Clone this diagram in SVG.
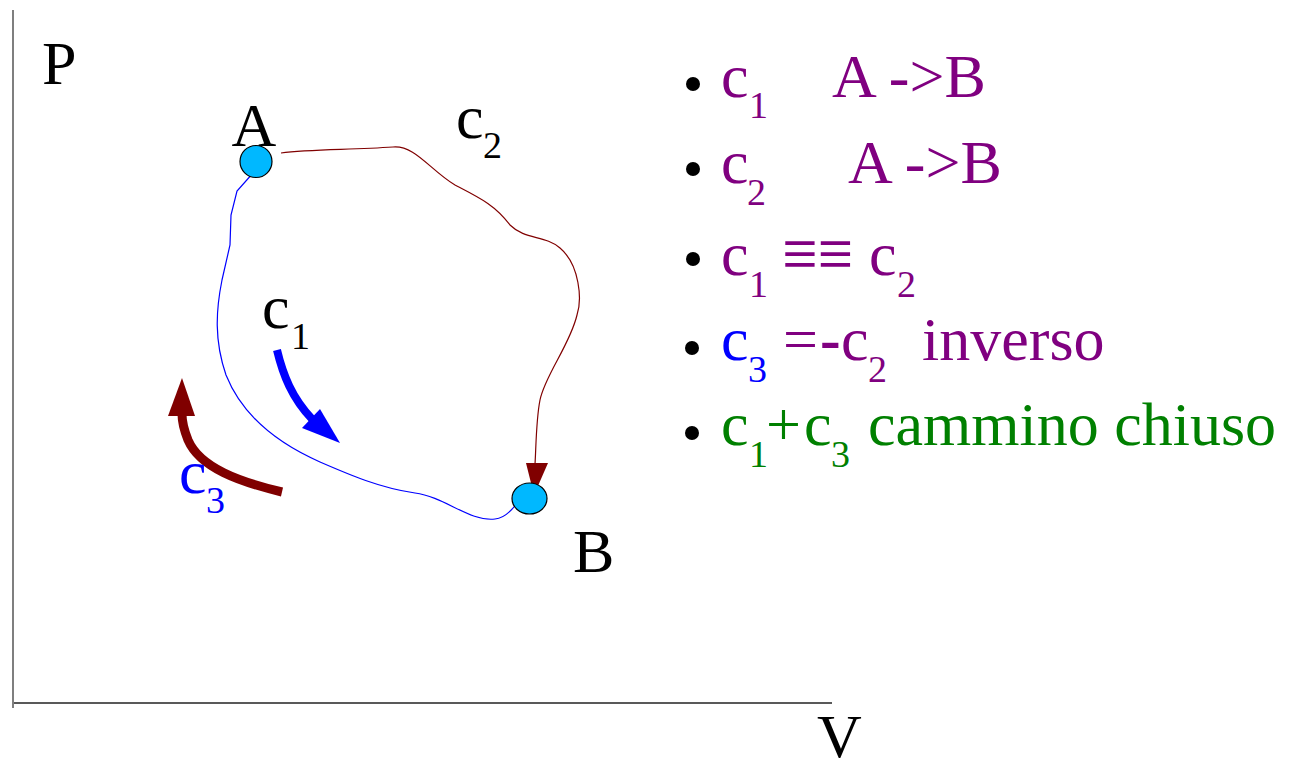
<svg xmlns="http://www.w3.org/2000/svg" width="1298" height="769" viewBox="0 0 1298 769">
<style>
  text { font-family: "Liberation Serif", "Times New Roman", serif; font-size: 62px; }
  .sub { font-size: 38px; }
  .eq { font-size: 75px; }
  .k { fill: #000000; }
  .pu { fill: #800080; }
  .bl { fill: #0000ff; }
  .gr { fill: #008000; }
  .pt { fill: #00b8ff; stroke: #000000; stroke-width: 1.2; }
  .bul { fill: #000000; }
</style>
<rect width="1298" height="769" fill="#ffffff"/>
<g id="axes">
  <line x1="13" y1="10" x2="13" y2="708" stroke="#555555" stroke-width="1.5"/>
  <line x1="14" y1="703" x2="832" y2="703" stroke="#222222" stroke-width="1.5"/>
  <text x="42" y="84" class="k">P</text>
  <text x="817" y="757" class="k">V</text>
</g>
<g id="connectors">
  <path id="c1-path" d="M253,173 L237,191 L231,215 L230,245 L222,280 C216,310 214,340 226,375 C240,410 270,440 320,462 C350,475 380,488 415,493 C445,497 470,522 495,519 C505,518 512,510 517,503" fill="none" stroke="#0000ff" stroke-width="1.2"/>
  <path id="c2-path" d="M281,153 C310,149 350,150 393,147 C415,145 430,170 455,185 C480,198 495,205 510,225 C525,240 545,235 560,248 C580,265 582,300 577,315 C570,345 545,375 540,400 C536,420 536,450 535,464" fill="none" stroke="#800000" stroke-width="1.2"/>
  <polygon points="526,463 548,463 534,495" fill="#800000"/>
  <path id="c1-arrow" d="M277,350 C283,375 292,398 312,419" fill="none" stroke="#0000ff" stroke-width="8"/>
  <polygon points="302,428 320,409 340,443" fill="#0000ff"/>
  <path id="c3-arrow" d="M282,492 C240,482 200,468 188,440 C184,430 182,422 182,414" fill="none" stroke="#800000" stroke-width="9"/>
  <polygon points="168,416 195,416 182,378" fill="#800000"/>
</g>
<g id="node-A">
  <circle cx="256" cy="161.5" r="16" class="pt"/>
  <text x="254" y="146" text-anchor="middle" class="k">A</text>
</g>
<g id="node-B">
  <ellipse cx="529.5" cy="498.5" rx="17.5" ry="15.5" class="pt"/>
  <text x="573" y="572" class="k">B</text>
</g>
<g id="label-c1">
  <text x="262" y="328" class="k">c</text>
  <text x="291" y="349" class="k sub">1</text>
</g>
<g id="label-c2">
  <text x="456" y="138" class="k">c</text>
  <text x="483" y="158" class="k sub">2</text>
</g>
<g id="label-c3">
  <text x="179" y="493" class="bl">c</text>
  <text x="206" y="513" class="bl sub">3</text>
</g>
<g id="legend">
  <circle cx="693" cy="84" r="7" class="bul"/>
  <text x="721" y="97" class="pu">c</text>
  <text x="749" y="118" class="pu sub">1</text>
  <text x="832" y="97" class="pu">A -&gt;B</text>

  <circle cx="693" cy="169" r="7" class="bul"/>
  <text x="721" y="183" class="pu">c</text>
  <text x="747" y="205" class="pu sub">2</text>
  <text x="848" y="183" class="pu">A -&gt;B</text>

  <circle cx="693" cy="259" r="7" class="bul"/>
  <text x="721" y="275" class="pu">c</text>
  <text x="749" y="297" class="pu sub">1</text>
  <text x="782" y="279" class="pu eq" textLength="71" lengthAdjust="spacingAndGlyphs">≡≡</text>
  <text x="869" y="275" class="pu">c</text>
  <text x="897" y="297" class="pu sub">2</text>

  <circle cx="692" cy="348" r="7" class="bul"/>
  <text x="721" y="360" class="bl">c</text>
  <text x="748" y="382" class="bl sub">3</text>
  <text x="783" y="360" class="pu">=</text>
  <text x="820" y="360" class="pu" font-weight="bold">-</text>
  <text x="841" y="360" class="pu">c</text>
  <text x="868" y="382" class="pu sub">2</text>
  <text x="922" y="360" class="pu">inverso</text>

  <circle cx="692" cy="433" r="7" class="bul"/>
  <text x="721" y="445" class="gr">c</text>
  <text x="749" y="467" class="gr sub">1</text>
  <text x="766" y="445" class="gr">+</text>
  <text x="804" y="445" class="gr">c</text>
  <text x="831" y="467" class="gr sub">3</text>
  <text x="868" y="445" class="gr">cammino chiuso</text>
</g>
</svg>
